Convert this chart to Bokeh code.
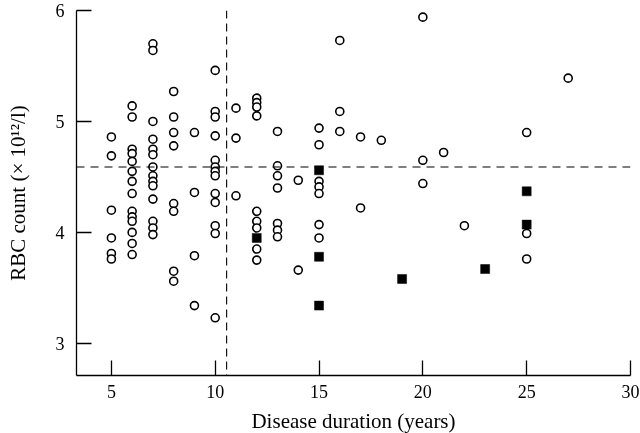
from bokeh.plotting import figure
from bokeh.models import Range1d, FixedTicker, Span
from bokeh.embed import file_html
from bokeh.resources import INLINE

# Open circles: disease duration (years) and RBC count (x10^12/l)
duration_open = (
    [5] * 6 + [6] * 14 + [7] * 14 + [8] * 8 + [9] * 4 + [10] * 13 + [11] * 3 +
    [12] * 9 + [13] * 7 + [14] * 2 + [15] * 7 + [16] * 3 + [17] * 2 + [18] +
    [20] * 3 + [21] + [22] + [25] * 3 + [27]
)
rbc_open = [
    4.86, 4.69, 4.20, 3.95, 3.81, 3.76,
    5.14, 5.04, 4.75, 4.71, 4.64, 4.55, 4.46, 4.35, 4.19, 4.14, 4.10, 4.00, 3.90, 3.80,
    5.70, 5.64, 5.00, 4.84, 4.75, 4.70, 4.59, 4.51, 4.46, 4.42, 4.30, 4.10, 4.04, 3.98,
    5.27, 5.04, 4.90, 4.78, 4.26, 4.19, 3.65, 3.56,
    4.90, 4.36, 3.79, 3.34,
    5.46, 5.09, 5.04, 4.87, 4.65, 4.59, 4.55, 4.51, 4.35, 4.27, 4.06, 3.99, 3.23,
    5.12, 4.85, 4.33,
    5.21, 5.17, 5.13, 5.05, 4.19, 4.10, 4.04, 3.85, 3.75,
    4.91, 4.60, 4.51, 4.40, 4.08, 4.02, 3.96,
    4.47, 3.66,
    4.94, 4.79, 4.46, 4.41, 4.35, 4.07, 3.95,
    5.73, 5.09, 4.91,
    4.86, 4.22,
    4.83,
    5.94, 4.65, 4.44,
    4.72,
    4.06,
    4.90, 3.99, 3.76,
    5.39,
]

# Filled squares
duration_filled = [12, 15, 15, 15, 19, 23, 25, 25]
rbc_filled = [3.95, 4.56, 3.78, 3.34, 3.58, 3.67, 4.37, 4.07]

x_ticks = [5, 10, 15, 20, 25, 30]
y_ticks = [3, 4, 5, 6]
mean_rbc = 4.59
duration_cutoff = 10.55

FONT = "Liberation Serif"

p = figure(width=640, height=445, output_backend="svg", toolbar_location=None,
           x_range=Range1d(3.32, 30.0), y_range=Range1d(2.71, 6.0),
           min_border_left=76, min_border_right=10, min_border_top=10,
           min_border_bottom=70)
# pin the plot to the window corner so it never overflows the page
p.styles = {"position": "fixed", "top": "0px", "left": "0px"}
p.outline_line_color = None
p.xgrid.grid_line_color = None
p.ygrid.grid_line_color = None
p.background_fill_color = "white"

for ax in (p.xaxis[0], p.yaxis[0]):
    ax.major_tick_in = 15
    ax.major_tick_out = 0
    ax.minor_tick_line_color = None
    ax.axis_line_width = 1.3
    ax.major_tick_line_width = 1.3
    ax.axis_line_color = "black"
    ax.major_tick_line_color = "black"
    ax.major_label_text_font = FONT
    ax.major_label_text_font_size = "18px"
    ax.major_label_text_color = "black"
    ax.axis_label_text_font = FONT
    ax.axis_label_text_font_size = "21px"
    ax.axis_label_text_font_style = "normal"
    ax.axis_label_text_color = "black"

p.xaxis.ticker = FixedTicker(ticks=x_ticks)
p.yaxis.ticker = FixedTicker(ticks=y_ticks)
p.xaxis.major_label_standoff = 9
p.yaxis.major_label_standoff = 12
p.xaxis.axis_label = "Disease duration (years)"
p.yaxis.axis_label = "RBC count (× 10¹²/l)"
p.xaxis.axis_label_standoff = 8
p.yaxis.axis_label_standoff = 23

p.add_layout(Span(location=mean_rbc, dimension="width", line_color="black",
                  line_width=1.1, line_dash="8 6"))
p.add_layout(Span(location=duration_cutoff, dimension="height", line_color="black",
                  line_width=1.1, line_dash="8 5"))

p.scatter(duration_open, rbc_open, marker="circle", size=8, fill_color="white",
          line_color="black", line_width=1.6)
p.scatter(duration_filled, rbc_filled, marker="square", size=9, fill_color="black",
          line_color="black", line_width=0.5)

open("out.html", "w").write(file_html(p, INLINE))
